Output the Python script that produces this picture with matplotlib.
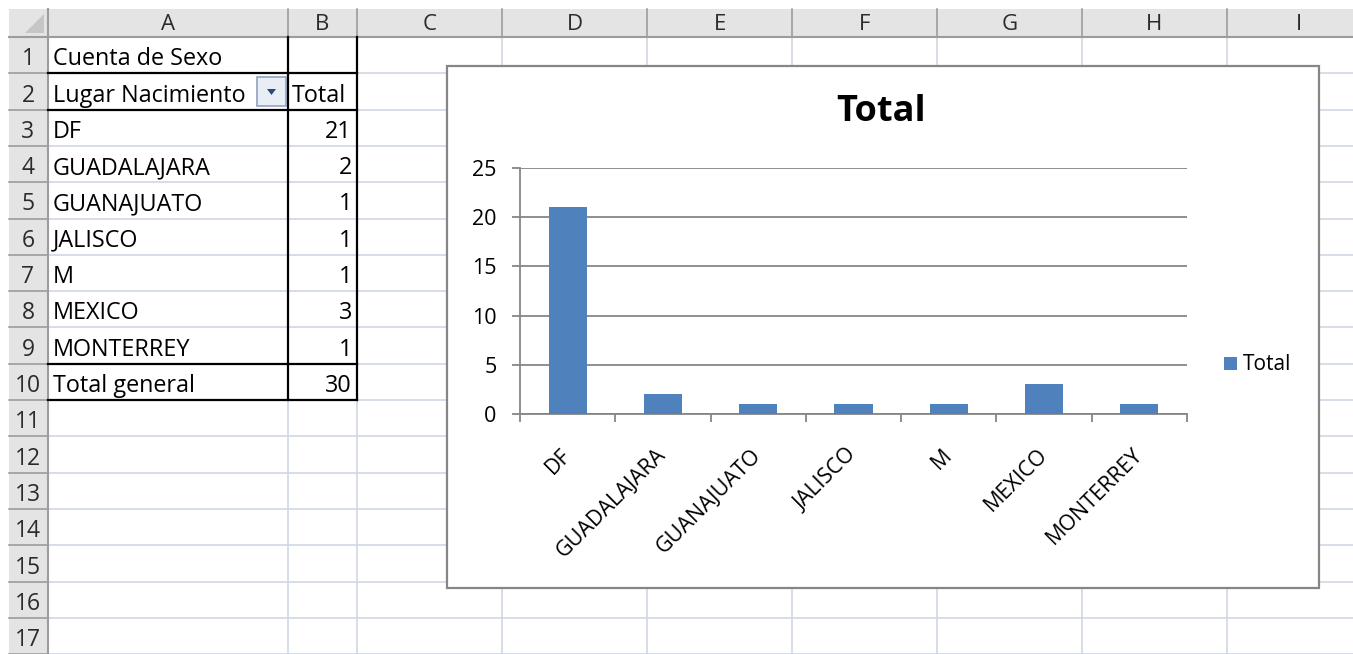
import matplotlib.pyplot as plt
from matplotlib.patches import Rectangle, Polygon
from matplotlib.transforms import blended_transform_factory, ScaledTranslation

# pivot table data
lugares = ['DF', 'GUADALAJARA', 'GUANAJUATO', 'JALISCO', 'M', 'MEXICO', 'MONTERREY']
totales = [21, 2, 1, 1, 1, 3, 1]
total_general = 30

col_letters = ['A', 'B', 'C', 'D', 'E', 'F', 'G', 'H', 'I']
col_edges = [48, 288, 357, 502, 647, 792, 937, 1082, 1227, 1372]
n_rows = 17

W, H = 1353, 654
plt.rcParams['font.family'] = ['Open Sans', 'DejaVu Sans']

fig = plt.figure(figsize=(W / 100, H / 100), dpi=100)
sheet = fig.add_axes([0, 0, 1, 1])
sheet.set_xlim(0, W)
sheet.set_ylim(H, 0)
sheet.axis('off')

grid_c = '#d0d7e5'
head_c = '#e4e4e4'
sep_c = '#9c9c9c'
txt_c = '#2b2b2b'
top = 37
row_h = 36.3


def row_y(k):
    return top + row_h * k


def base_y(k):
    # text baseline inside row k (0-based)
    return row_y(k + 1) - 8


# cell grid
for x in col_edges[1:]:
    sheet.plot([x, x], [top, H], color=grid_c, lw=1.2, zorder=1)
for k in range(1, n_rows + 1):
    sheet.plot([48, W], [row_y(k), row_y(k)], color=grid_c, lw=1.2, zorder=1)

# column header
sheet.add_patch(Rectangle((9, 9), W - 9, top - 9, facecolor=head_c, edgecolor='none', zorder=2))
sheet.plot([9, W], [top, top], color=sep_c, lw=1.5, zorder=3)
for i, letter in enumerate(col_letters):
    x0, x1 = col_edges[i], col_edges[i + 1]
    sheet.plot([x0, x0], [9, top], color=sep_c, lw=1.2, zorder=3)
    sheet.text((x0 + x1) / 2, 30, letter, ha='center', va='baseline',
               fontsize=16, color=txt_c, zorder=4)

# row header
sheet.add_patch(Rectangle((9, top), 39, H - top, facecolor=head_c, edgecolor='none', zorder=2))
sheet.plot([48, 48], [9, H], color=sep_c, lw=1.5, zorder=3)
for k in range(n_rows):
    sheet.plot([9, 48], [row_y(k + 1), row_y(k + 1)], color=sep_c, lw=1.2, zorder=3)
    sheet.text(28, base_y(k), str(k + 1), ha='center', va='baseline',
               fontsize=16.5, color=txt_c, zorder=4)

# corner triangle
sheet.add_patch(Polygon([[44, 14], [44, 33], [25, 33]], closed=True,
                        facecolor='#c6c6c6', edgecolor='none', zorder=4))

# pivot table cells
cell_fs = 16.8
sheet.text(53, base_y(0), 'Cuenta de Sexo', ha='left', va='baseline', fontsize=cell_fs, zorder=4)
sheet.text(53, base_y(1), 'Lugar Nacimiento', ha='left', va='baseline', fontsize=cell_fs, zorder=4)
sheet.text(292, base_y(1), 'Total', ha='left', va='baseline', fontsize=cell_fs, zorder=4)
for k, (lug, tot) in enumerate(zip(lugares, totales)):
    sheet.text(53, base_y(k + 2), lug, ha='left', va='baseline', fontsize=cell_fs, zorder=4)
    sheet.text(352, base_y(k + 2), str(tot), ha='right', va='baseline', fontsize=cell_fs, zorder=4)
sheet.text(53, base_y(9), 'Total general', ha='left', va='baseline', fontsize=cell_fs, zorder=4)
sheet.text(352, base_y(9), str(total_general), ha='right', va='baseline', fontsize=cell_fs, zorder=4)

# dropdown button
sheet.add_patch(Rectangle((257, 77), 29, 29, facecolor='#e9eef6', edgecolor='#8fa3bf', lw=1.2, zorder=4))
sheet.add_patch(Polygon([[267, 89], [276, 89], [271.5, 95]], closed=True,
                        facecolor='#2b4a75', edgecolor='none', zorder=5))

# pivot borders
bk = dict(color='black', lw=1.6, zorder=5)
sheet.plot([288, 288], [top, row_y(10)], **bk)
sheet.plot([357, 357], [top, row_y(10)], **bk)
for k in [1, 2, 9, 10]:
    sheet.plot([48, 357], [row_y(k), row_y(k)], **bk)

# chart area
sheet.add_patch(Rectangle((447, 66), 1319 - 447, 588 - 66, facecolor='white',
                          edgecolor='#868686', lw=1.6, zorder=6))
sheet.text(881, 112, 'Total', ha='center', va='center', fontsize=26,
           fontweight='bold', zorder=7)

# plot area
px0, px1, py0, py1 = 520, 1187, 168, 414
ax = fig.add_axes([px0 / W, 1 - py1 / H, (px1 - px0) / W, (py1 - py0) / H])
ax.set_zorder(10)
ax.patch.set_visible(False)

x = list(range(len(lugares)))
bars = ax.bar(x, totales, width=0.4, color='#4f81bd', zorder=3, label='Total')

ax.set_xlim(-0.5, len(lugares) - 0.5)
ax.set_ylim(0, 25)
ax.set_yticks([0, 5, 10, 15, 20, 25])
ax.yaxis.grid(True, color='#868686', lw=1.3)
ax.set_axisbelow(True)
for s in ['top', 'right']:
    ax.spines[s].set_visible(False)
for s in ['left', 'bottom']:
    ax.spines[s].set_color('#868686')
    ax.spines[s].set_linewidth(1.3)
ax.tick_params(axis='y', length=6, width=1.3, color='#868686', labelsize=15.5, pad=11)

ax.set_xticks(x)
ax.set_xticklabels([])
ax.tick_params(axis='x', which='major', length=0)
ax.set_xticks([i - 0.5 for i in range(len(lugares) + 1)], minor=True)
ax.tick_params(axis='x', which='minor', length=6, width=1.3, color='#868686')

trans = blended_transform_factory(ax.transData, ax.transAxes) + \
    ScaledTranslation(0.0, -0.38, fig.dpi_scale_trans)
for i, lug in enumerate(lugares):
    ax.text(i, 0, lug, transform=trans, rotation=45, rotation_mode='anchor',
            ha='right', va='center', fontsize=15.5)

fig.legend(handles=[bars], labels=['Total'], loc='center left',
           bbox_to_anchor=(1224 / W, 1 - 365 / H), frameon=False, fontsize=15,
           handlelength=0.6, handleheight=0.6, handletextpad=0.3,
           borderpad=0, borderaxespad=0)

fig.savefig('out.png', dpi=100)
